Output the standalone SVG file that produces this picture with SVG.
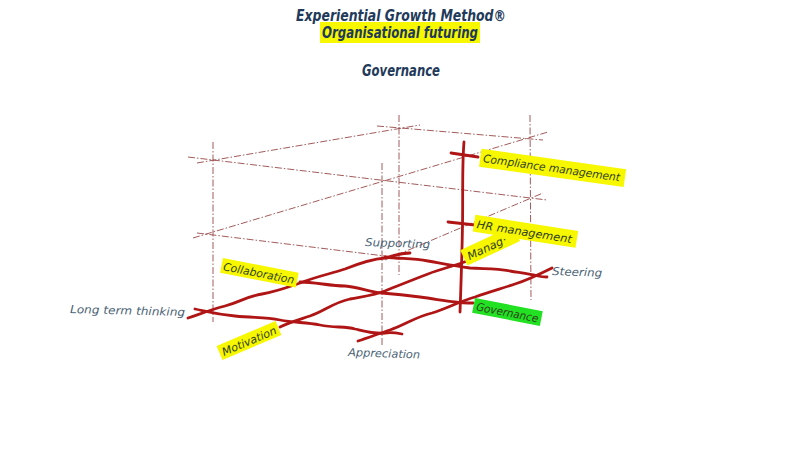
<svg xmlns="http://www.w3.org/2000/svg" width="800" height="450" viewBox="0 0 800 450">
<style>
.grid{fill:none;stroke:#984848;stroke-width:0.9;stroke-dasharray:7 2 1.5 2}
.red{fill:none;stroke:#b01515;stroke-width:2.8;stroke-linecap:round;stroke-linejoin:round}
.title{font-family:"DejaVu Sans",sans-serif;font-style:italic;font-weight:bold;fill:#1f3a5a}
.hl{font-family:"DejaVu Sans",sans-serif;font-style:italic;font-size:11px;fill:#2f3f1f}
.lb{font-family:"DejaVu Sans",sans-serif;font-style:italic;font-size:11px;fill:#4a6275}
.yel{fill:#f7f700}
.grn{fill:#22e022}
</style>
<rect width="800" height="450" fill="#ffffff"/>

<g id="titles">
<text class="title" x="401" y="21" font-size="15" text-anchor="middle" textLength="210" lengthAdjust="spacingAndGlyphs">Experiential Growth Method®</text>
<rect class="yel" x="320" y="22" width="160" height="21"/>
<text class="title" x="322" y="38" font-size="15" textLength="156" lengthAdjust="spacingAndGlyphs">Organisational futuring</text>
<text class="title" x="362" y="76" font-size="15" textLength="78" lengthAdjust="spacingAndGlyphs">Governance</text>
</g>

<g id="grid">
<line class="grid" x1="213" y1="142" x2="213" y2="322"/>
<line class="grid" x1="399" y1="115" x2="399" y2="275"/>
<line class="grid" x1="382" y1="163" x2="382" y2="345"/>
<line class="grid" x1="530" y1="115" x2="531" y2="300"/>
<line class="grid" x1="188" y1="157" x2="547" y2="200"/>
<line class="grid" x1="197" y1="163" x2="420" y2="125"/>
<line class="grid" x1="377" y1="126" x2="543" y2="140"/>
<line class="grid" x1="193" y1="238" x2="548" y2="132"/>
<line class="grid" x1="197" y1="233" x2="393" y2="257"/>
<line class="grid" x1="385" y1="260" x2="543" y2="193"/>
</g>

<g id="connectors">
<path class="red" d="M464,142 C462,165 463,195 462.5,225 C462,255 461,285 460,312"/>
<path class="red" d="M451,153 L478,157"/>
<path class="red" d="M448,222 L475,225"/>
<path class="red" d="M188,318 C200,314 210,310 225,306 C240,302 245,297 262,294 C278,291 285,288 300,283 C318,276 330,274 345,269 C360,263 372,259 385,258 C395,255 403,253 410,253"/>
<path class="red" d="M195,309 C205,311 215,314 235,316 C255,318 265,317 280,320 C295,323 305,322 320,325 C335,328 345,326 355,329 C368,332 375,334 385,333 C392,332 397,333 402,334"/>
<path class="red" d="M280,327 C290,322 298,320 310,316 C325,311 332,303 350,299 C366,296 375,295 385,291 C400,285 412,280 428,274 C443,268 455,266 467,261"/>
<path class="red" d="M300,282 C315,282 330,286 345,286 C360,287 368,292 382,293 C395,294 405,295 420,297 C435,299 445,301 455,302 C462,303 468,303 473,303"/>
<path class="red" d="M385,257 C400,259 412,258 428,261 C445,264 455,266 470,268 C485,269 495,268 510,271 C522,273 530,274 538,276 C542,277 545,277 547,277"/>
<path class="red" d="M358,341 C370,337 378,334 390,330 C405,325 415,317 432,313 C448,308 458,302 475,297 C492,291 500,289 515,284 C528,280 540,274 552,268"/>
</g>

<g id="compliance" transform="rotate(8 482 160)">
<rect class="yel" x="480" y="149" width="146" height="18"/>
<text class="hl" x="483" y="162" font-size="12" textLength="138" lengthAdjust="spacingAndGlyphs">Compliance management</text>
</g>
<g id="manag" transform="rotate(-25 468 262)">
<rect class="yel" x="466" y="248" width="58" height="17"/>
<text class="hl" x="470" y="261" textLength="42" lengthAdjust="spacingAndGlyphs">Manag·</text>
</g>
<g id="hr" transform="rotate(9 476 224)">
<rect class="yel" x="474" y="215" width="104" height="17"/>
<text class="hl" x="477" y="228" font-size="12" textLength="96" lengthAdjust="spacingAndGlyphs">HR management</text>
</g>
<g id="collaboration" transform="rotate(11 223 258)">
<rect class="yel" x="223" y="258" width="77" height="15"/>
<text class="hl" x="225" y="270" textLength="72" lengthAdjust="spacingAndGlyphs">Collaboration</text>
</g>
<g id="motivation" transform="rotate(-23 217 347)">
<rect class="yel" x="217" y="346" width="64" height="15"/>
<text class="hl" x="220" y="358" textLength="58" lengthAdjust="spacingAndGlyphs">Motivation</text>
</g>
<g id="governance" transform="rotate(11 475 298)">
<rect class="grn" x="475" y="298" width="69" height="15"/>
<text class="hl" x="478" y="310" fill="#2a5a2a" textLength="63" lengthAdjust="spacingAndGlyphs">Governance</text>
</g>
<g id="longterm"><text class="lb" x="70" y="313" transform="rotate(1.5 70 313)" textLength="115" lengthAdjust="spacingAndGlyphs">Long term thinking</text></g>
<g id="supporting"><text class="lb" x="365" y="246" transform="rotate(2 365 246)" textLength="65" lengthAdjust="spacingAndGlyphs">Supporting</text></g>
<g id="steering"><text class="lb" x="552" y="275" transform="rotate(2 552 275)" textLength="50" lengthAdjust="spacingAndGlyphs">Steering</text></g>
<g id="appreciation"><text class="lb" x="348" y="356" transform="rotate(2 348 356)" textLength="72" lengthAdjust="spacingAndGlyphs">Appreciation</text></g>
</svg>
